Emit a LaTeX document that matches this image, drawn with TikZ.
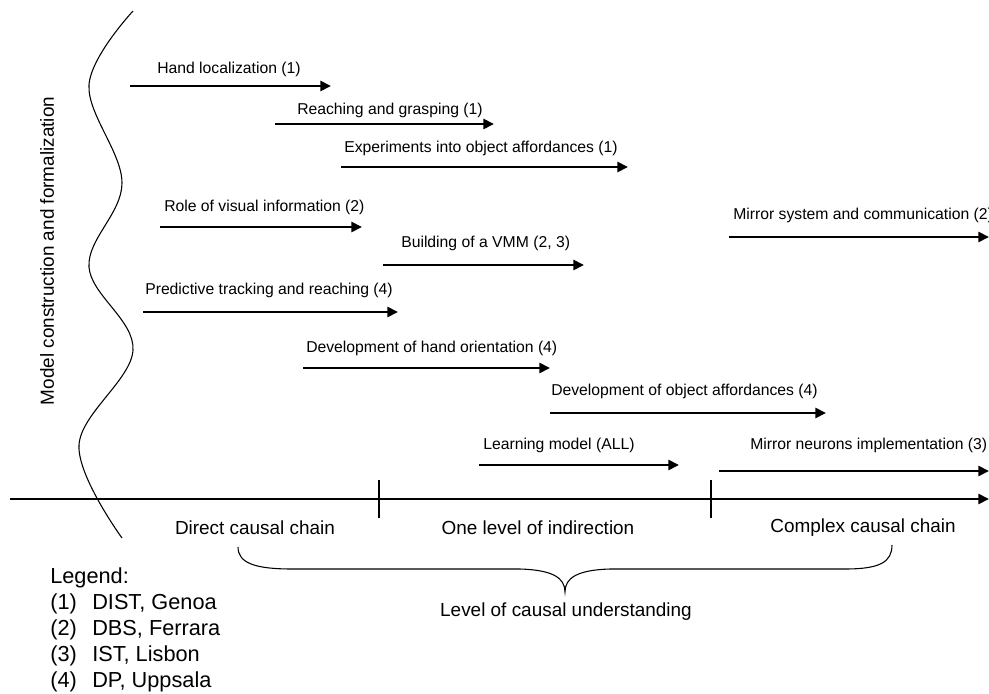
\documentclass[tikz,border=0pt]{standalone}
\usepackage{fontspec}
\setmainfont{Liberation Sans}
\usetikzlibrary{arrows.meta}
\begin{document}
\begin{tikzpicture}[x=0.75pt,y=-0.75pt,
  lbl/.style={anchor=west,inner sep=0pt,font=\fontsize{11.8}{14}\selectfont},
  big/.style={inner sep=0pt,font=\fontsize{14.2}{17}\selectfont},
  leg/.style={anchor=base west,inner sep=0pt,font=\fontsize{16.3}{19}\selectfont},
  task/.style={line width=2pt,-{Triangle[length=8pt,width=7.5pt]}},
  thinline/.style={line width=0.8pt}]
\useasboundingbox (0,0) rectangle (989,693);

% wavy line
\draw[thinline] plot[smooth,tension=0.6] coordinates {(133,11) (89,85) (122,183) (89,267) (133,350) (79,445) (122,538)};

% vertical label
\node[big,rotate=90] (ylab) at (47,251) {Model construction and formalization};

% tasks
\coordinate (a1s) at (130,86);  \coordinate (a1e) at (331,86);
\node[lbl] (t1) at (157,69) {Hand localization (1)};
\draw[task] (a1s) -- (a1e);

\coordinate (a2s) at (275,124); \coordinate (a2e) at (494,124);
\node[lbl] (t2) at (297,110) {Reaching and grasping (1)};
\draw[task] (a2s) -- (a2e);

\coordinate (a3s) at (341,167); \coordinate (a3e) at (628,167);
\node[lbl] (t3) at (344,148) {Experiments into object affordances (1)};
\draw[task] (a3s) -- (a3e);

\coordinate (a4s) at (160,227); \coordinate (a4e) at (362,227);
\node[lbl] (t4) at (164,207) {Role of visual information (2)};
\draw[task] (a4s) -- (a4e);

\coordinate (a5s) at (729,237); \coordinate (a5e) at (989,237);
\node[lbl] (t5) at (733,215) {Mirror system and communication (2)};
\draw[task] (a5s) -- (a5e);

\coordinate (a6s) at (383,265); \coordinate (a6e) at (584,265);
\node[lbl] (t6) at (401,243) {Building of a VMM (2, 3)};
\draw[task] (a6s) -- (a6e);

\coordinate (a7s) at (143,312); \coordinate (a7e) at (398,312);
\node[lbl] (t7) at (145,290) {Predictive tracking and reaching (4)};
\draw[task] (a7s) -- (a7e);

\coordinate (a8s) at (303,368); \coordinate (a8e) at (550,368);
\node[lbl] (t8) at (306,348) {Development of hand orientation (4)};
\draw[task] (a8s) -- (a8e);

\coordinate (a9s) at (550,413); \coordinate (a9e) at (826,413);
\node[lbl] (t9) at (551,391) {Development of object affordances (4)};
\draw[task] (a9s) -- (a9e);

\coordinate (a10s) at (479,465); \coordinate (a10e) at (679,465);
\node[lbl] (t10) at (483,445) {Learning model (ALL)};
\draw[task] (a10s) -- (a10e);

\coordinate (a11s) at (719,471); \coordinate (a11e) at (989,471);
\node[lbl] (t11) at (750,445) {Mirror neurons implementation (3)};
\draw[task] (a11s) -- (a11e);

% axis
\coordinate (ax0) at (10,499); \coordinate (ax1) at (989,499);
\draw[task] (ax0) -- (ax1);
\coordinate (k1a) at (379,480); \coordinate (k1b) at (379,518);
\coordinate (k2a) at (711,480); \coordinate (k2b) at (711,518);
\draw[thinline] (k1a) -- (k1b);
\draw[thinline] (k2a) -- (k2b);

\node[big] (c1) at (255,528) {Direct causal chain};
\node[big] (c2) at (538,528) {One level of indirection};
\node[big] (c3) at (863,528) {Complex causal chain};

% brace
\coordinate (br0) at (238,547);
\coordinate (bt) at (565,592);
\coordinate (br1) at (892,545);
\draw[thinline] (br0) .. controls (238,563) and (255,569) .. (292,569)
  -- (520,569) .. controls (553,570) and (565,578) .. (bt)
  .. controls (565,578) and (577,570) .. (610,569)
  -- (845,569) .. controls (880,569) and (892,562) .. (br1);
\node[big] (lvl) at (566,612) {Level of causal understanding};

% legend
\node[leg] (lg) at (50,583) {Legend:};
\node[leg] (n1) at (50,609) {(1)}; \node[leg] (l1) at (92,609) {DIST, Genoa};
\node[leg] (n2) at (50,635) {(2)}; \node[leg] (l2) at (92,635) {DBS, Ferrara};
\node[leg] (n3) at (50,661) {(3)}; \node[leg] (l3) at (92,661) {IST, Lisbon};
\node[leg] (n4) at (50,687) {(4)}; \node[leg] (l4) at (92,687) {DP, Uppsala};
\end{tikzpicture}
\end{document}
